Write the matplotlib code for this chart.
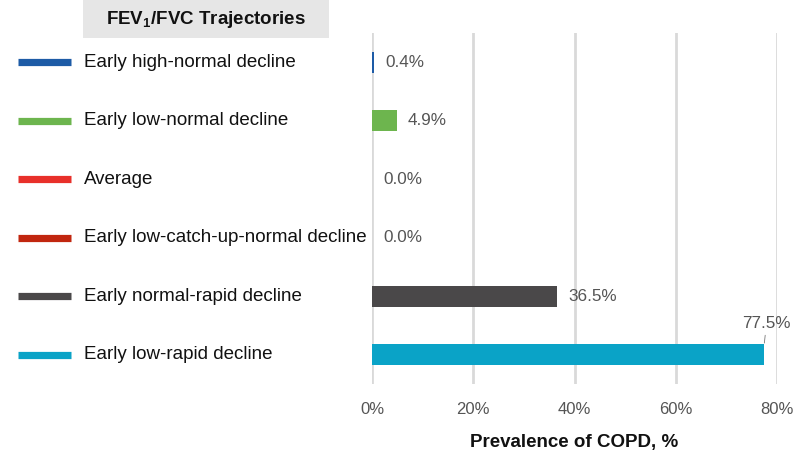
import matplotlib.pyplot as plt
from matplotlib.patches import Rectangle
from matplotlib.transforms import blended_transform_factory

plt.rcParams['font.family'] = ['Liberation Sans', 'DejaVu Sans']

trajectories = [
    "Early high-normal decline",
    "Early low-normal decline",
    "Average",
    "Early low-catch-up-normal decline",
    "Early normal-rapid decline",
    "Early low-rapid decline",
]
prevalence = [0.4, 4.9, 0.0, 0.0, 36.5, 77.5]
colors = ["#1d5ba6", "#6db54e", "#e8302a", "#c1260f", "#4a4849", "#0aa3c7"]
xticks = [0, 20, 40, 60, 80]

fig = plt.figure(figsize=(7.99, 4.55), dpi=100)
ax = fig.add_axes([372 / 799, 1 - 384 / 455, 405 / 799, 351 / 455])

y = list(range(len(trajectories)))
ax.barh(y, prevalence, height=0.36, color=colors, zorder=3)
ax.set_ylim(len(trajectories) - 0.5, -0.5)
ax.set_xlim(0, 80)

# Grid lines only, no spines
ax.set_xticks(xticks)
ax.set_xticklabels([f"{t}%" for t in xticks])
ax.grid(axis="x", color="#d9d9d9", linewidth=2)
ax.set_axisbelow(True)
for s in ax.spines.values():
    s.set_visible(False)
ax.tick_params(axis="x", length=0, pad=13, labelsize=12, labelcolor="#555555")
ax.set_yticks([])
ax.set_xlabel("Prevalence of COPD, %", fontsize=13.5, fontweight="bold",
              labelpad=12, color="#111111")

# Value labels
for i, v in enumerate(prevalence):
    if i == len(prevalence) - 1:
        ax.annotate(f"{v}%", (v, i - 0.2), textcoords="offset points",
                    xytext=(19, 14), ha="right", va="center", fontsize=12.3,
                    color="#555555",
                    arrowprops=dict(arrowstyle="-", color="#777777", lw=0.6,
                                    shrinkA=1, shrinkB=0))
    else:
        ax.annotate(f"{v}%", (v, i), textcoords="offset points",
                    xytext=(8, 0), ha="left", va="center", fontsize=12.3,
                    color="#555555")

# Legend-like row labels on the left
trans = blended_transform_factory(fig.transFigure, ax.transData)
for i, (name, c) in enumerate(zip(trajectories, colors)):
    ax.plot([18 / 799, 71 / 799], [i, i], transform=trans, color=c,
            linewidth=5.2, solid_capstyle="butt", clip_on=False)
    ax.text(84 / 799, i, name, transform=trans, ha="left", va="center",
            fontsize=13.5, color="#111111")

# Title box
fig.patches.append(Rectangle((83 / 799, 1 - 38 / 455), 246 / 799, 38 / 455,
                             transform=fig.transFigure, facecolor="#e6e6e6",
                             edgecolor="none"))
fig.text(206 / 799, 1 - 20 / 455, "FEV$_\\mathregular{1}$/FVC Trajectories",
         ha="center", va="center", fontsize=13.5, fontweight="bold",
         color="#111111")

fig.savefig("out.png", dpi=100)
